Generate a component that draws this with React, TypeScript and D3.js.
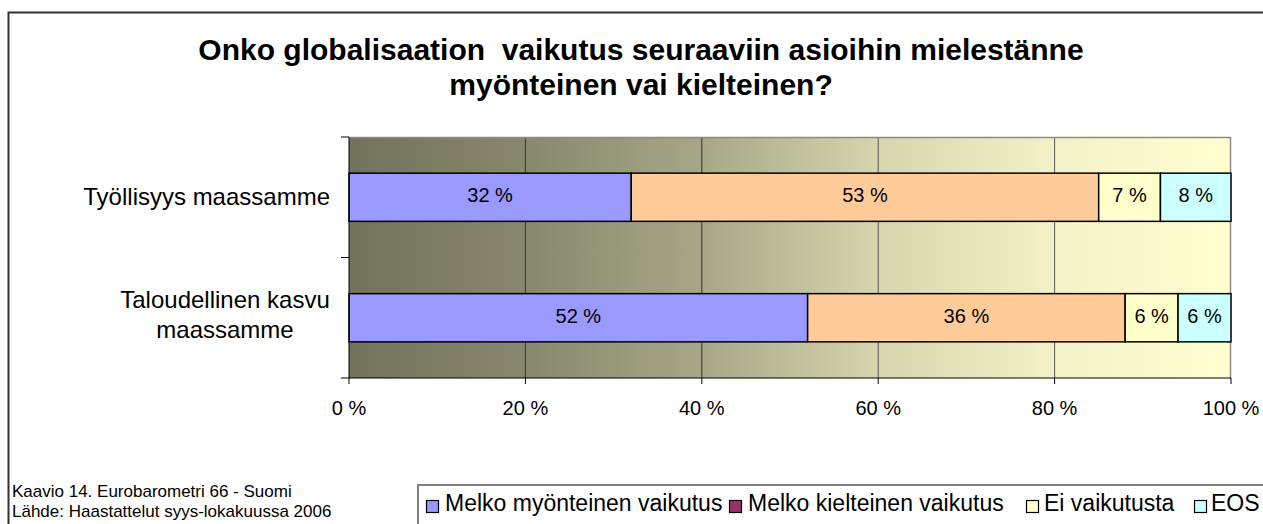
import React from "react";
import * as d3 from "d3";

const categories = ["Työllisyys maassamme", "Taloudellinen kasvu maassamme"];
const categoryLines = [["Työllisyys maassamme"], ["Taloudellinen kasvu", "maassamme"]];
const seriesNames = ["Melko myönteinen vaikutus", "Melko kielteinen vaikutus", "Ei vaikutusta", "EOS"];
const melkoMyonteinen = [32, 52];
const melkoKielteinen = [53, 36];
const eiVaikutusta = [7, 6];
const eos = [8, 6];
const xTicks = [0, 20, 40, 60, 80, 100];
const titleLines = ["Onko globalisaation  vaikutus seuraaviin asioihin mielestänne", "myönteinen vai kielteinen?"];
const footnotes = ["Kaavio 14. Eurobarometri 66 - Suomi", "Lähde: Haastattelut syys-lokakuussa 2006"];

const barColors = ["#9999FF", "#FFCC99", "#FFFFCC", "#CCFFFF"];
const legendColors = ["#9999FF", "#993366", "#FFFFCC", "#CCFFFF"];
const legendSquareX = [426, 729, 1026, 1194];
const legendTextX = [445, 748, 1044, 1211];

const FONT = "'Liberation Sans', Arial, sans-serif";

export default function App() {
  const W = 1263, H = 524;
  const plot = { left: 349, right: 1231, top: 137, bottom: 378 };
  const x = d3.scaleLinear().domain([0, 100]).range([plot.left, plot.right]);
  const y = d3.scaleBand<string>().domain(categories).range([plot.top, plot.bottom]).padding(0);
  const barH = y.bandwidth() * 0.4;

  const series = [melkoMyonteinen, melkoKielteinen, eiVaikutusta, eos];
  const rows = categories.map((c, i) => {
    const obj: any = { cat: c };
    series.forEach((s, k) => (obj["s" + k] = s[i]));
    return obj;
  });
  const stack = d3.stack<any>().keys(series.map((_, k) => "s" + k))(rows);

  const yTickPos = [plot.top, ...categories.slice(1).map((c) => y(c)!), plot.bottom];

  return (
    <svg width={W} height={H} style={{ position: "absolute", left: 0, top: 0, fontFamily: FONT }}>
      <defs>
        <linearGradient id="bg" x1="0" x2="1" y1="0" y2="0">
          <stop offset="0" stopColor="#72715A" />
          <stop offset="0.2" stopColor="#88886E" />
          <stop offset="0.4" stopColor="#A7A787" />
          <stop offset="0.6" stopColor="#D6D5AE" />
          <stop offset="0.8" stopColor="#F3F2C6" />
          <stop offset="1" stopColor="#FFFFD2" />
        </linearGradient>
      </defs>
      <rect x={0} y={0} width={W} height={H} fill="#fff" />
      <rect x={8.5} y={12.5} width={1400} height={700} fill="#fff" stroke="#333" strokeWidth={2} />

      {titleLines.map((t, i) => (
        <text key={i} x={641} y={60 + i * 35} textAnchor="middle" fontSize={30} fontWeight="bold" fill="#000"
          style={{ whiteSpace: "pre" }}>{t}</text>
      ))}

      {/* plot area */}
      <rect x={plot.left} y={plot.top} width={plot.right - plot.left} height={plot.bottom - plot.top} fill="url(#bg)" />
      {xTicks.slice(1, -1).map((t) => (
        <line key={t} x1={x(t)} x2={x(t)} y1={plot.top} y2={plot.bottom} stroke={t < 50 ? "#333" : "#555"} strokeWidth={1} />
      ))}
      <line x1={plot.left} x2={plot.right} y1={plot.top + 0.5} y2={plot.top + 0.5} stroke="#8a8a8a" strokeWidth={1.5} />
      <line x1={plot.right - 0.5} x2={plot.right - 0.5} y1={plot.top} y2={plot.bottom} stroke="#8a8a8a" strokeWidth={1.5} />

      {stack.map((layer, k) =>
        layer.map((d, i) => {
          const x0 = x(d[0]), x1 = x(d[1]);
          const yc = y(categories[i])! + y.bandwidth() / 2;
          return (
            <g key={k + "-" + i}>
              <rect x={x0} y={yc - barH / 2} width={x1 - x0} height={barH} fill={barColors[k]} stroke="#000" strokeWidth={1.5} />
              <text x={(x0 + x1) / 2} y={yc} dy="0.25em" textAnchor="middle" fontSize={20} fill="#000">
                {series[k][i] + " %"}
              </text>
            </g>
          );
        })
      )}

      {/* axes */}
      <line x1={plot.left} x2={plot.left} y1={plot.top} y2={plot.bottom} stroke="#000" strokeWidth={1} />
      <line x1={plot.left} x2={plot.right} y1={plot.bottom} y2={plot.bottom} stroke="#000" strokeWidth={1} />
      {yTickPos.map((p, i) => (
        <line key={i} x1={plot.left - 8} x2={plot.left} y1={p} y2={p} stroke="#000" strokeWidth={1} />
      ))}
      {xTicks.map((t) => (
        <g key={t}>
          <line x1={x(t)} x2={x(t)} y1={plot.bottom} y2={plot.bottom + 6} stroke="#000" strokeWidth={1} />
          <text x={x(t)} y={plot.bottom + 37} textAnchor="middle" fontSize={20} fill="#000">{t + " %"}</text>
        </g>
      ))}

      {categoryLines.map((lines, i) => {
        const yc = y(categories[i])! + y.bandwidth() / 2;
        if (lines.length === 1) {
          return (
            <text key={i} x={330} y={yc + 7.5} textAnchor="end" fontSize={24} fill="#000">{lines[0]}</text>
          );
        }
        return (
          <text key={i} x={225} textAnchor="middle" fontSize={24} fill="#000">
            {lines.map((l, j) => (
              <tspan key={j} x={225} y={yc + (j - (lines.length - 1) / 2) * 30 + 5}>{l}</tspan>
            ))}
          </text>
        );
      })}

      {/* footnote */}
      {footnotes.map((f, i) => (
        <text key={i} x={12} y={497 + i * 20} fontSize={17} fill="#000">{f}</text>
      ))}

      {/* legend */}
      <rect x={418} y={485} width={1000} height={200} fill="#fff" stroke="#808080" strokeWidth={2} />
      {seriesNames.map((n, k) => (
        <g key={n}>
          <rect x={legendSquareX[k] + 0.5} y={500.5} width={12} height={12} fill={legendColors[k]} stroke="#000" strokeWidth={1.2} />
          <text x={legendTextX[k]} y={511} fontSize={23} fill="#000">{n}</text>
        </g>
      ))}
    </svg>
  );
}
